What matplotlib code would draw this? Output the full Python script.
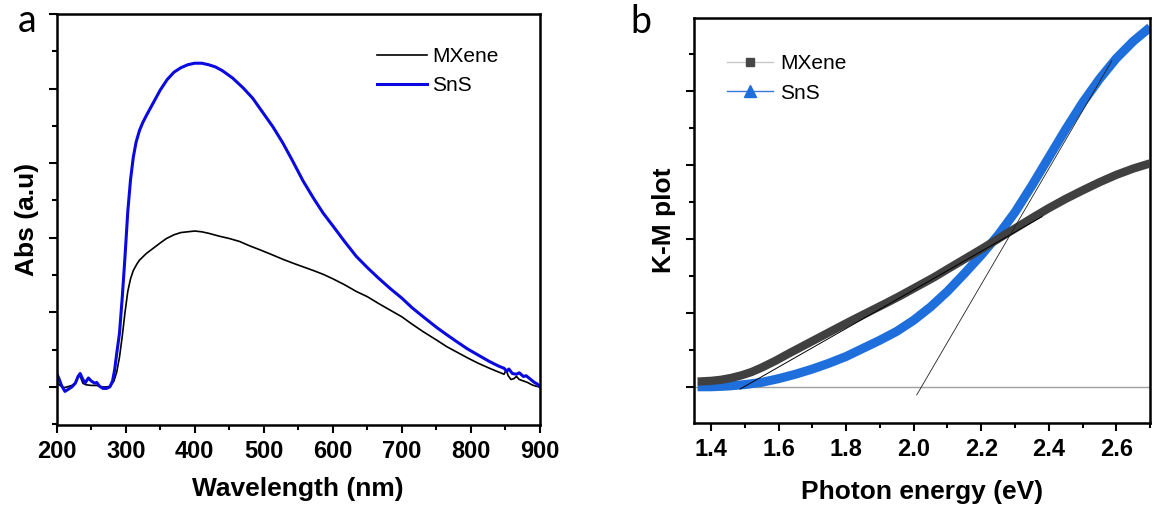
import matplotlib
matplotlib.use('Agg')
import matplotlib.pyplot as plt
from matplotlib.lines import Line2D
from matplotlib.ticker import MultipleLocator

plt.rcParams['font.family'] = ['Liberation Sans', 'DejaVu Sans']

# panel a - absorbance spectra
wl_sns = [200, 203, 207, 212, 217, 222, 227, 231, 234, 237, 241, 246, 250, 255, 258, 262, 267, 272, 277,
          281, 284, 287, 291, 295, 299, 303, 307, 311, 315, 320, 325, 330, 340, 350, 360, 370, 380, 390, 400,
          410, 420, 430, 440, 455, 470, 484, 500, 513, 527, 540, 557, 572, 586, 600, 617, 634, 650, 666,
          683, 700, 715, 731, 750, 765, 779, 795, 810, 827, 840, 848, 852, 855, 860, 866, 870, 876, 880,
          884, 888, 892, 896, 900]
abs_sns = [0.18, 0.12, 0.02, -0.06, -0.03, 0.0, 0.05, 0.14, 0.18, 0.12, 0.05, 0.12, 0.08, 0.05, 0.06, 0.01,
           -0.02, -0.02, 0.0, 0.08, 0.23, 0.45, 0.72, 1.2, 1.75, 2.35, 2.78, 3.08, 3.28, 3.44, 3.55, 3.64, 3.81,
           3.98, 4.12, 4.22, 4.28, 4.32, 4.34, 4.34, 4.32, 4.29, 4.24, 4.14, 4.01, 3.87, 3.66, 3.49, 3.28,
           3.06, 2.76, 2.53, 2.33, 2.16, 1.95, 1.75, 1.60, 1.46, 1.32, 1.19, 1.06, 0.94, 0.80, 0.70, 0.61,
           0.51, 0.43, 0.34, 0.28, 0.25, 0.21, 0.24, 0.18, 0.17, 0.19, 0.14, 0.15, 0.12, 0.09, 0.06, 0.04, 0.0]

wl_mxene = [200, 205, 210, 215, 222, 228, 232, 235, 238, 242, 250, 258, 265, 272, 278, 283, 287, 291, 295,
            299, 303, 307, 311, 316, 320, 330, 340, 350, 359, 370, 380, 390, 400, 410, 420, 436, 450, 465,
            480, 494, 510, 528, 545, 557, 572, 586, 600, 617, 634, 650, 666, 683, 700, 715, 731, 750, 765,
            779, 795, 810, 827, 840, 848, 851, 854, 858, 862, 866, 870, 876, 882, 888, 894, 900]
abs_mxene = [0.05, 0.02, -0.01, 0.0, 0.02, 0.06, 0.16, 0.12, 0.05, 0.03, 0.02, 0.02, 0.0, 0.0, 0.01, 0.08,
             0.20, 0.40, 0.68, 1.00, 1.28, 1.45, 1.56, 1.645, 1.70, 1.79, 1.86, 1.93, 1.99, 2.04, 2.07, 2.08,
             2.09, 2.08, 2.06, 2.02, 1.99, 1.95, 1.89, 1.84, 1.78, 1.71, 1.65, 1.61, 1.56, 1.51, 1.45, 1.37,
             1.28, 1.21, 1.12, 1.03, 0.94, 0.84, 0.74, 0.63, 0.54, 0.47, 0.39, 0.32, 0.25, 0.20, 0.17, 0.23,
             0.15, 0.10, 0.11, 0.14, 0.10, 0.08, 0.06, 0.03, 0.01, 0.0]

# panel b - K-M plot
ev = [1.36, 1.40, 1.43, 1.46, 1.49, 1.52, 1.55, 1.59, 1.63, 1.68, 1.73, 1.78, 1.82, 1.87, 1.92, 1.96, 2.00,
      2.06, 2.10, 2.15, 2.20, 2.25, 2.30, 2.35, 2.40, 2.45, 2.50, 2.55, 2.60, 2.65, 2.70]
km_mxene = [0.07, 0.08, 0.095, 0.12, 0.155, 0.20, 0.26, 0.35, 0.45, 0.57, 0.69, 0.81, 0.905, 1.02, 1.135,
            1.23, 1.33, 1.48, 1.59, 1.725, 1.86, 2.00, 2.14, 2.28, 2.415, 2.54, 2.655, 2.765, 2.865, 2.95, 3.02]

ev_sns = [1.36, 1.40, 1.45, 1.50, 1.55, 1.60, 1.65, 1.70, 1.75, 1.80, 1.85, 1.90, 1.95, 2.00, 2.05, 2.10,
          2.15, 2.20, 2.25, 2.30, 2.35, 2.40, 2.45, 2.50, 2.55, 2.60, 2.65, 2.70]
km_sns = [0.0, 0.0, 0.01, 0.03, 0.06, 0.11, 0.17, 0.24, 0.32, 0.41, 0.52, 0.63, 0.75, 0.90, 1.08, 1.29,
          1.53, 1.78, 2.05, 2.36, 2.72, 3.10, 3.48, 3.84, 4.16, 4.44, 4.67, 4.86]

# tangent (band gap) lines
fit_mxene_x = [1.486, 2.380]
fit_mxene_y = [-0.03, 2.30]
fit_sns_x = [2.009, 2.587]
fit_sns_y = [-0.11, 4.41]

fig = plt.figure(figsize=(11.54, 5.14), dpi=100)
ax1 = fig.add_axes([0.0491, 0.1732, 0.4188, 0.7996])
ax2 = fig.add_axes([0.6010, 0.1770, 0.3956, 0.7886])

ax1.plot(wl_mxene, abs_mxene, color='black', lw=1.2, label='MXene')
ax1.plot(wl_sns, abs_sns, color='#0a0ae0', lw=2.2, label='SnS')
ax1.set_xlim(200, 900)
ax1.set_ylim(-0.51, 5.0)
ax1.xaxis.set_major_locator(MultipleLocator(100))
ax1.xaxis.set_minor_locator(MultipleLocator(50))
ax1.set_xlabel('Wavelength (nm)', fontsize=19, fontweight='bold')
ax1.set_ylabel('Abs (a.u)', fontsize=19, fontweight='bold')
ax1.xaxis.set_label_coords(0.5, -0.127)
ax1.yaxis.set_label_coords(-0.037, 0.5)
ax1.legend(loc='upper left', bbox_to_anchor=(0.663, 0.92), frameon=False, fontsize=15,
           handlelength=2.4, handletextpad=0.25, labelspacing=0.5, borderpad=0, borderaxespad=0)

ax2.axhline(0, color='#a0a0a0', lw=1.0, zorder=1)
ax2.plot(ev_sns, km_sns, color='#1e6fdc', lw=6.5, solid_capstyle='butt', zorder=2)
ax2.plot(ev, km_mxene, color='#404040', lw=6.0, solid_capstyle='butt', zorder=3)
ax2.plot(fit_mxene_x, fit_mxene_y, color='black', lw=0.7, zorder=4)
ax2.plot(fit_sns_x, fit_sns_y, color='#222222', lw=0.6, zorder=4)
ax2.set_xlim(1.348, 2.70)
ax2.set_ylim(-0.49, 4.99)
ax2.xaxis.set_major_locator(MultipleLocator(0.2))
ax2.xaxis.set_minor_locator(MultipleLocator(0.1))
ax2.set_xlabel('Photon energy (eV)', fontsize=19, fontweight='bold')
ax2.set_ylabel('K-M plot', fontsize=19, fontweight='bold')
ax2.xaxis.set_label_coords(0.5, -0.14)
ax2.yaxis.set_label_coords(-0.038, 0.5)
handles = [Line2D([], [], color='#c8c8c8', lw=1, marker='s', markersize=6,
                  markerfacecolor='#474747', markeredgecolor='#474747'),
           Line2D([], [], color='#3a78d8', lw=1, marker='^', markersize=8,
                  markerfacecolor='#1e6fdc', markeredgecolor='#1e6fdc')]
ax2.legend(handles, ['MXene', 'SnS'], loc='upper left', bbox_to_anchor=(0.073, 0.91), frameon=False,
           fontsize=15, handlelength=2.2, handletextpad=0.35, labelspacing=0.5, borderpad=0,
           borderaxespad=0)

for ax in [ax1, ax2]:
    ax.yaxis.set_major_locator(MultipleLocator(1))
    ax.yaxis.set_minor_locator(MultipleLocator(0.5))
    ax.set_yticklabels([])
    ax.tick_params(which='major', direction='out', length=6, width=1.5, labelsize=17, pad=5,
                   top=False, right=False)
    ax.tick_params(which='minor', direction='out', length=3.5, width=1.5, top=False, right=False)
    for lbl in ax.get_xticklabels():
        lbl.set_fontweight('bold')
    for sp in ax.spines.values():
        sp.set_linewidth(1.8)

fig.text(0.0156, 0.9377, 'a', fontsize=27, family='Lato', va='baseline')
fig.text(0.546, 0.9358, 'b', fontsize=27, family='Lato', va='baseline')

fig.savefig('out.png', dpi=100)
